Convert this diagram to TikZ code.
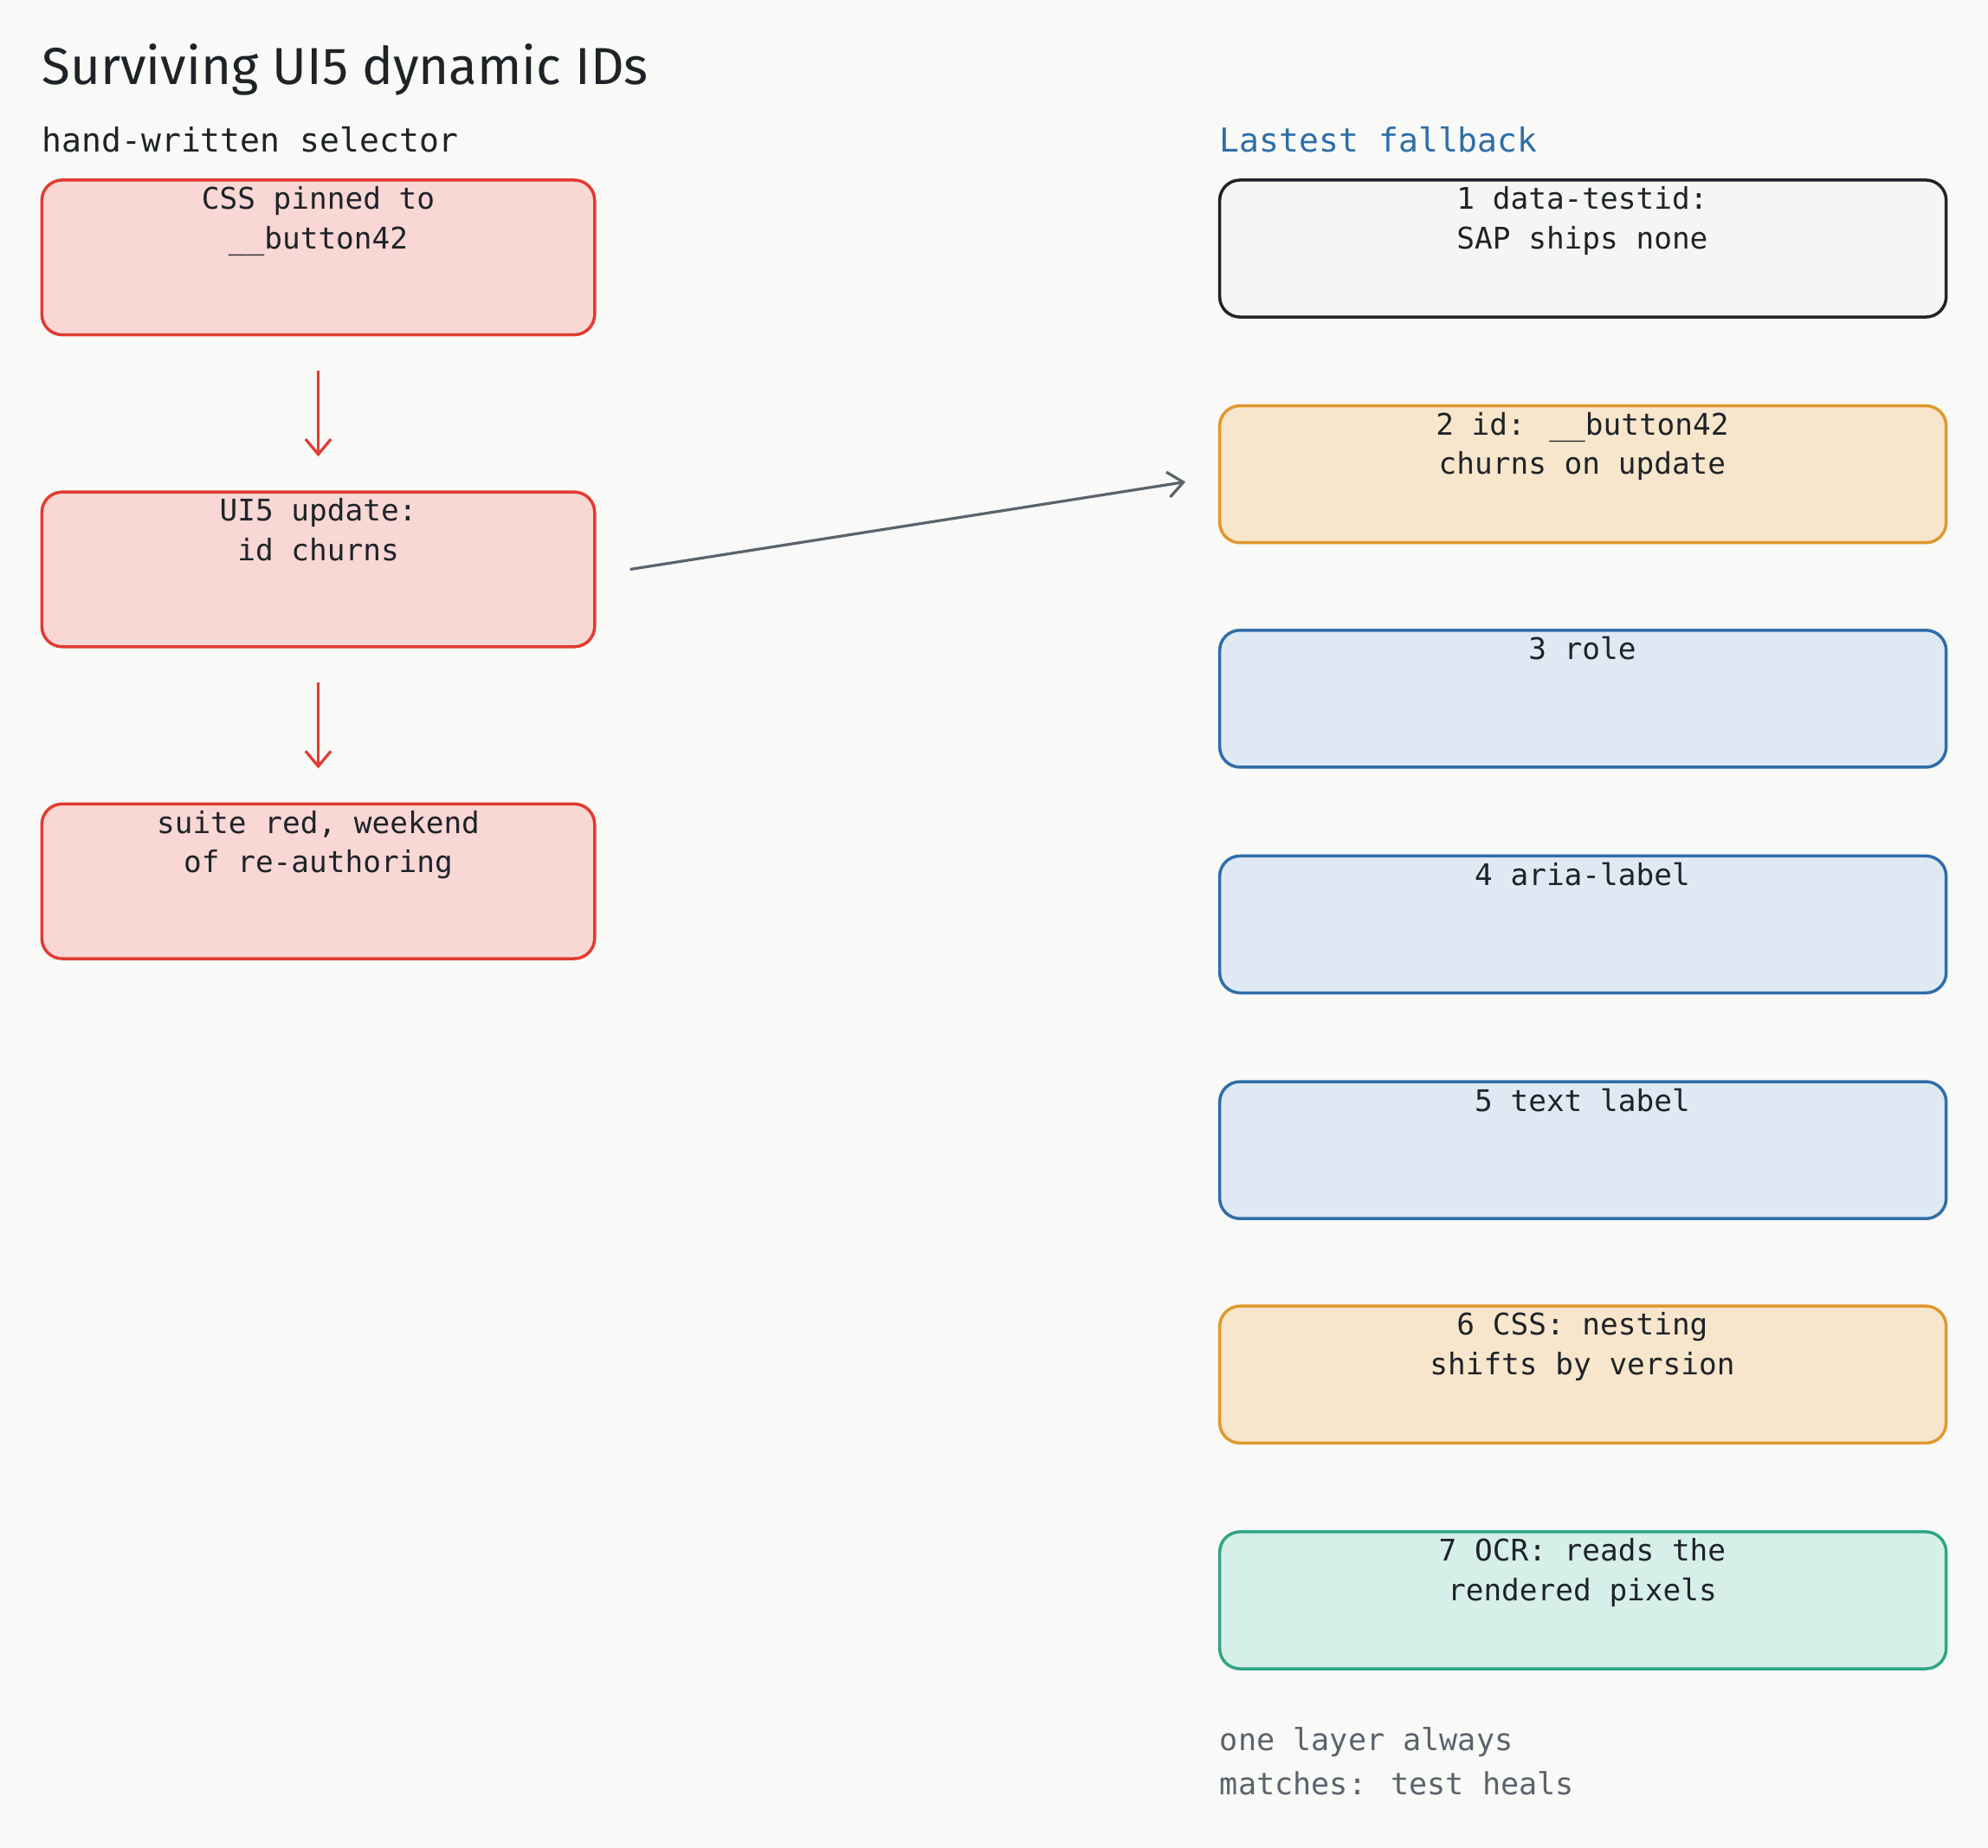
\documentclass[tikz,border=0pt]{standalone}
\usepackage{fontspec}
\setmainfont{DejaVu Sans Mono}
\newfontfamily\titlefont{Fira Sans}
\usetikzlibrary{arrows.meta}
\definecolor{bg}{HTML}{F9F9F7}
\definecolor{ink}{HTML}{1E2328}
\definecolor{rs}{HTML}{E03C31}\definecolor{rf}{HTML}{F8D7D5}
\definecolor{os}{HTML}{E0982F}\definecolor{of}{HTML}{F8E6CC}
\definecolor{bs}{HTML}{2F6EA8}\definecolor{bf}{HTML}{DFE9F3}
\definecolor{gs}{HTML}{2FA585}\definecolor{gf}{HTML}{D6EFE8}
\definecolor{ns}{HTML}{1E2328}\definecolor{nf}{HTML}{F5F5F4}
\definecolor{gr}{HTML}{5A636C}
\begin{document}
\begin{tikzpicture}[x=1pt,y=-1pt,
 box/.style={draw=#1s,fill=#1f,line width=2.4pt,rounded corners=16pt},
 lbl/.style={anchor=north,align=center,font=\fontsize{23.5}{31}\selectfont,text=ink,inner sep=0pt},
 arr/.style={-{Straight Barb[length=12pt,width=20pt]},line width=2.2pt}]
\fill[bg] (0,0) rectangle (1568,1457);
\useasboundingbox (0,0) rectangle (1568,1457);
\node[anchor=west,text=ink,font=\titlefont\fontsize{41}{48}\selectfont,inner sep=0pt] (title) at (33,55) {Surviving UI5 dynamic IDs};
\node[anchor=west,text=ink,font=\fontsize{26}{30}\selectfont,inner sep=0pt] (lh) at (33,110) {hand-written selector};
\node[anchor=west,text=bs,font=\fontsize{26}{30}\selectfont,inner sep=0pt] (rh) at (962,110) {Lastest fallback};
% left
\foreach \n/\y/\t in {a/142/{CSS pinned to\\\_\_button42},b/388/{UI5 update:\\id churns},c/634/{suite red, weekend\\of re-authoring}}{
 \draw[box=r] (33,\y) rectangle (469,\y+122);
 \node[lbl] (\n) at (251,\y+5) {\t};
}
\coordinate (a1) at (251,292);\coordinate (a2) at (251,360);
\coordinate (b1) at (251,538);\coordinate (b2) at (251,606);
\draw[arr,rs] (a1)--(a2);
\draw[arr,rs] (b1)--(b2);
\coordinate (g1) at (497,449);\coordinate (g2) at (935,380);
\draw[arr,gr] (g1)--(g2);
% right
\foreach \n/\y/\c/\t in {r1/142/n/{1 data-testid:\\SAP ships none},r2/320/o/{2 id: \_\_button42\\churns on update},r3/497/b/{3 role},r4/675/b/{4 aria-label},r5/853/b/{5 text label},r6/1030/o/{6 CSS: nesting\\shifts by version},r7/1208/g/{7 OCR: reads the\\rendered pixels}}{
 \draw[box=\c] (962,\y) rectangle (1535,\y+108);
 \node[lbl] (\n) at (1248,\y+5) {\t};
}
\node[anchor=north west,align=left,text=gr,font=\fontsize{24}{35}\selectfont,inner sep=0pt] (foot) at (962,1362) {one layer always\\matches: test heals};
\end{tikzpicture}
\end{document}
